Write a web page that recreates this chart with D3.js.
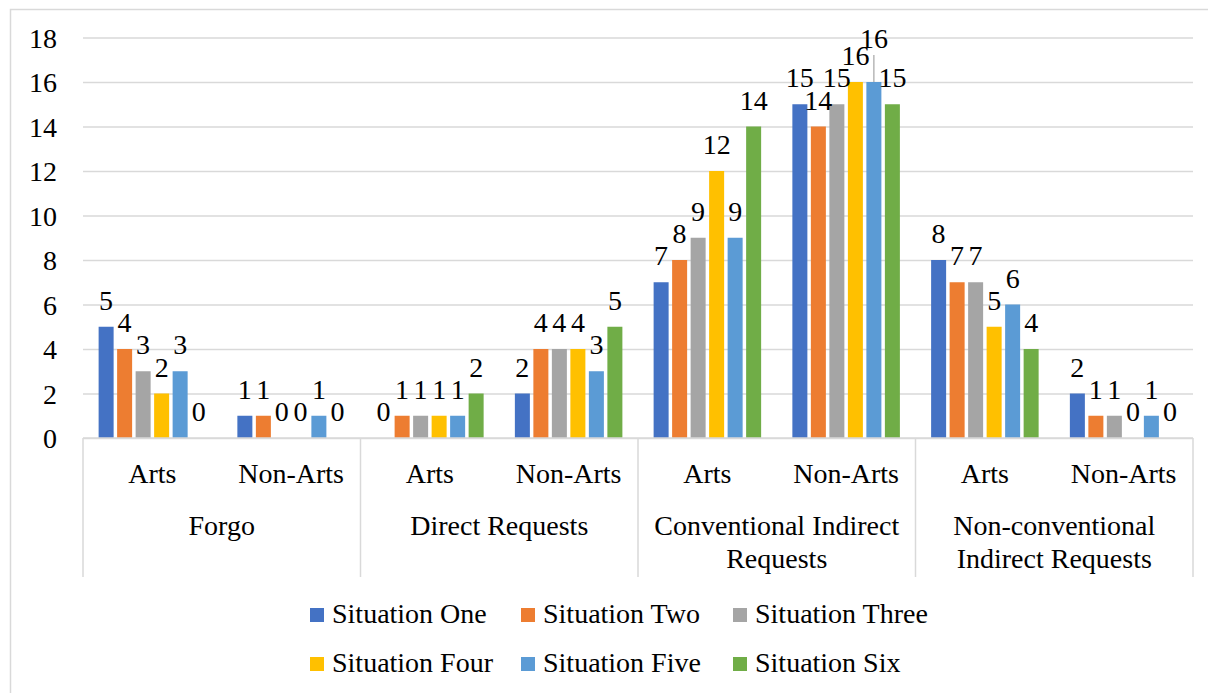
<!DOCTYPE html>
<html>
<head>
<meta charset="utf-8">
<script src="https://cdn.jsdelivr.net/npm/d3@7"></script>
<style>
  html, body { margin: 0; padding: 0; background: #fff; }
  svg { display: block; }
</style>
</head>
<body>
<svg id="chart" width="1208" height="693"></svg>
<script>
// Request strategies by situation, split into Arts / Non-Arts participants
const groups = ["Forgo", "Direct Requests", "Conventional Indirect Requests", "Non-conventional Indirect Requests"];
const groupLabelLines = [["Forgo"], ["Direct Requests"], ["Conventional Indirect", "Requests"], ["Non-conventional", "Indirect Requests"]];
const subgroups = ["Arts", "Non-Arts"];
const seriesNames = ["Situation One", "Situation Two", "Situation Three", "Situation Four", "Situation Five", "Situation Six"];
const seriesColors = ["#4472C4", "#ED7D31", "#A5A5A5", "#FFC000", "#5B9BD5", "#70AD47"];

// one value per group/subgroup pair, in order: Forgo Arts, Forgo Non-Arts, Direct Arts, ...
const situationOne   = [5, 1, 0, 2, 7, 15, 8, 2];
const situationTwo   = [4, 1, 1, 4, 8, 14, 7, 1];
const situationThree = [3, 0, 1, 4, 9, 15, 7, 1];
const situationFour  = [2, 0, 1, 4, 12, 16, 5, 0];
const situationFive  = [3, 1, 1, 3, 9, 16, 6, 1];
const situationSix   = [0, 0, 2, 5, 14, 15, 4, 0];
const seriesValues = [situationOne, situationTwo, situationThree, situationFour, situationFive, situationSix];

const yTicks = [0, 2, 4, 6, 8, 10, 12, 14, 16, 18];

const FONT_FAMILY = '"Liberation Serif", Tinos, "Noto Serif", "DejaVu Serif", "Nimbus Roman", "Nimbus Roman No9 L", FreeSerif, Times, "Times New Roman", serif';
const FONT = 28;
const gridColor = "#d9d9d9";

const svg = d3.select("#chart")
  .attr("font-family", FONT_FAMILY)
  .style("font-family", FONT_FAMILY);

// outer chart frame
svg.append("rect")
  .attr("x", 10.5).attr("y", 9.5)
  .attr("width", 1400).attr("height", 900)
  .attr("fill", "none").attr("stroke", gridColor).attr("stroke-width", 1.5);

const plot = { left: 83, right: 1193, top: 37.5, bottom: 438 };

const y = d3.scaleLinear().domain([0, 18]).range([plot.bottom, plot.top]);

// flat list of the eight group/subgroup slots
const slots = [];
groups.forEach((g, gi) => subgroups.forEach((s, si) => slots.push({ key: gi + "|" + si, group: g, sub: s, index: gi * 2 + si })));

const xGroup = d3.scaleBand().domain(groups).range([plot.left, plot.right]).padding(0);
const xSlot = d3.scaleBand().domain(slots.map(d => d.key)).range([plot.left, plot.right]).padding(0);
const xSeries = d3.scaleBand().domain(seriesNames).range([0, xSlot.bandwidth()])
  .paddingInner(0.189).paddingOuter(0.844);

function serif(sel) {
  return sel.attr("font-family", FONT_FAMILY).style("font-family", FONT_FAMILY)
    .style("font-size", FONT + "px").attr("fill", "#000");
}

// gridlines + y tick labels
const yAxis = d3.axisLeft(y).tickValues(yTicks).tickSize(-(plot.right - plot.left)).tickPadding(26).tickFormat(d3.format("d"));
const yg = svg.append("g").attr("transform", `translate(${plot.left},0)`).call(yAxis);
yg.attr("font-family", FONT_FAMILY).attr("font-size", FONT);
yg.select(".domain").remove();
yg.selectAll(".tick line").attr("stroke", gridColor).attr("stroke-width", 1.5);
serif(yg.selectAll(".tick text")).attr("dy", "0.34em");

// bars
const barData = [];
seriesValues.forEach((vals, si) => vals.forEach((v, ci) => barData.push({ series: seriesNames[si], si, ci, value: v })));
const barCenter = d => xSlot(slots[d.ci].key) + xSeries(d.series) + xSeries.bandwidth() / 2;

svg.append("g").selectAll("rect").data(barData).join("rect")
  .attr("x", d => xSlot(slots[d.ci].key) + xSeries(d.series))
  .attr("y", d => y(d.value))
  .attr("width", xSeries.bandwidth())
  .attr("height", d => y(0) - y(d.value))
  .attr("fill", d => seriesColors[d.si]);

// value labels; the crowded Situation Five label in Conventional Non-Arts is lifted with a leader line
const liftedLabels = [{ si: 4, ci: 5, lift: 17 }];
const liftOf = d => { const l = liftedLabels.find(o => o.si === d.si && o.ci === d.ci); return l ? l.lift : 0; };
const labelGap = 17;
const labels = svg.append("g");
labels.selectAll("line").data(barData.filter(d => liftOf(d) > 0)).join("line")
  .attr("x1", barCenter).attr("x2", barCenter)
  .attr("y1", d => y(d.value))
  .attr("y2", d => y(d.value) - labelGap - liftOf(d) + 7)
  .attr("stroke", "#a6a6a6").attr("stroke-width", 1.2);
serif(labels.selectAll("text").data(barData).join("text"))
  .attr("x", barCenter)
  .attr("y", d => y(d.value) - labelGap - liftOf(d))
  .attr("text-anchor", "middle")
  .text(d => d.value);

// category axis: baseline and group dividers
const axisG = svg.append("g");
axisG.append("line")
  .attr("x1", plot.left).attr("x2", plot.right)
  .attr("y1", plot.bottom).attr("y2", plot.bottom)
  .attr("stroke", gridColor).attr("stroke-width", 1.5);
const dividers = groups.map(g => xGroup(g)).concat([plot.right]);
axisG.selectAll("line.div").data(dividers).join("line").attr("class", "div")
  .attr("x1", d => d).attr("x2", d => d)
  .attr("y1", plot.bottom).attr("y2", 577)
  .attr("stroke", gridColor).attr("stroke-width", 1.5);

// subgroup labels
serif(axisG.selectAll("text.sub").data(slots).join("text").attr("class", "sub"))
  .attr("x", d => xSlot(d.key) + xSlot.bandwidth() / 2)
  .attr("y", 483)
  .attr("text-anchor", "middle")
  .text(d => d.sub);

// group labels (wrapped)
groups.forEach((g, gi) => {
  const cx = xGroup(g) + xGroup.bandwidth() / 2;
  const t = serif(axisG.append("text")).attr("x", cx).attr("y", 535).attr("text-anchor", "middle");
  groupLabelLines[gi].forEach((line, li) => {
    t.append("tspan").attr("x", cx).attr("y", 535 + li * 33).text(line);
  });
});

// legend: two rows of three
const legendCols = [310, 521, 733];
const legendRows = [623, 672];
const legend = svg.append("g");
seriesNames.forEach((name, i) => {
  const lx = legendCols[i % 3], ly = legendRows[Math.floor(i / 3)];
  legend.append("rect").attr("x", lx).attr("y", ly - 15).attr("width", 14).attr("height", 14).attr("fill", seriesColors[i]);
  serif(legend.append("text")).attr("x", lx + 22).attr("y", ly).text(name);
});
</script>
</body>
</html>
